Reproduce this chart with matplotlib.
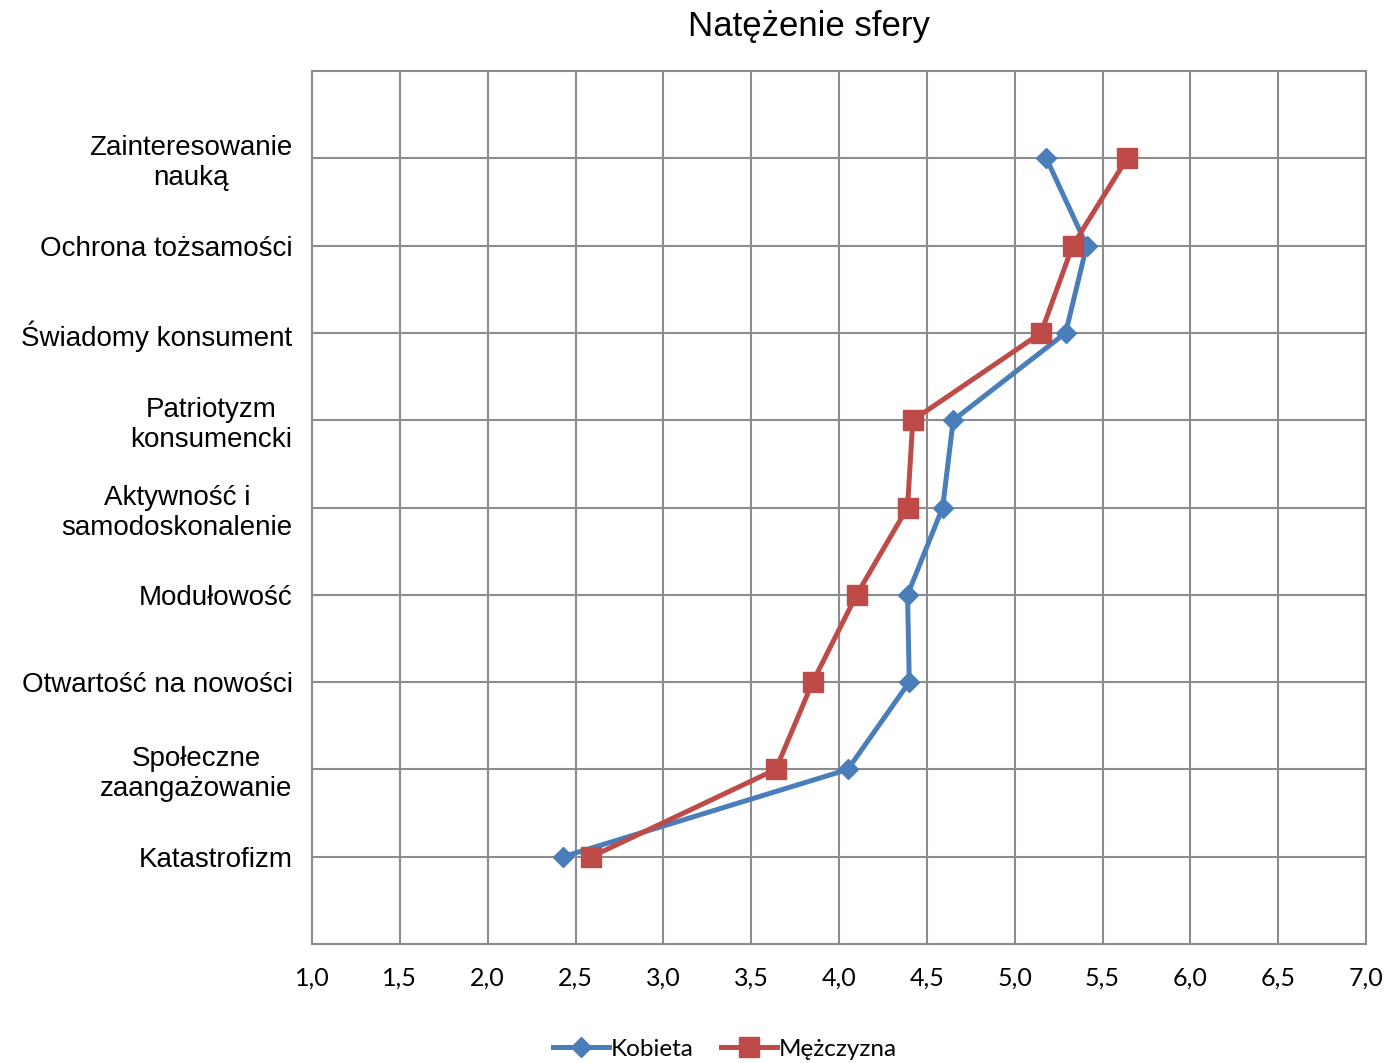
import matplotlib.pyplot as plt
from matplotlib import font_manager

categories = [
    "Zainteresowanie\nnauką",
    "Ochrona tożsamości",
    "Świadomy konsument",
    "Patriotyzm\nkonsumencki",
    "Aktywność i\nsamodoskonalenie",
    "Modułowość",
    "Otwartość na nowości",
    "Społeczne\nzaangażowanie",
    "Katastrofizm",
]
kobieta = [5.18, 5.41, 5.29, 4.65, 4.59, 4.39, 4.40, 4.05, 2.43]
mezczyzna = [5.64, 5.33, 5.15, 4.42, 4.39, 4.10, 3.85, 3.64, 2.59]
x_ticks = [1.0, 1.5, 2.0, 2.5, 3.0, 3.5, 4.0, 4.5, 5.0, 5.5, 6.0, 6.5, 7.0]

installed = {f.name for f in font_manager.fontManager.ttflist}
title_font = ["Liberation Sans Narrow", "Liberation Sans", "DejaVu Sans"]
title_font = [f for f in title_font if f in installed] or ["DejaVu Sans"]

fig = plt.figure(figsize=(13.86, 10.63), dpi=100)
ax = fig.add_axes([0.2251, 0.1119, 0.7605, 0.8213])

pos = list(range(1, len(categories) + 1))
ax.plot(kobieta, pos, color="#4A7EBB", lw=3.6, marker="D", ms=10,
        label="Kobieta", zorder=3)
ax.plot(mezczyzna, pos, color="#BE4B48", lw=3.6, marker="s", ms=14,
        label="Mężczyzna", zorder=4)

ax.set_xlim(1.0, 7.0)
ax.set_ylim(10, 0)
ax.set_xticks(x_ticks)
ax.set_xticklabels([f"{v:.1f}".replace(".", ",") for v in x_ticks],
                   fontsize=18, family="Lato")
ax.set_yticks(pos)
ax.set_yticklabels(categories, fontsize=20, family="Liberation Sans",
                   ha="right", multialignment="center")
ax.tick_params(axis="both", length=0)
ax.tick_params(axis="x", pad=16)
ax.tick_params(axis="y", pad=14)
ax.grid(True, color="#8C8C8C", lw=1.5)
for s in ax.spines.values():
    s.set_color("#8C8C8C")
    s.set_linewidth(1.5)

fig.text(0.584, 0.975, "Natężenie sfery", ha="center", va="center",
         fontsize=25, family=title_font)

fig.legend(loc="center", bbox_to_anchor=(0.523, 0.013), ncol=2, frameon=False,
           prop={"family": "Lato", "size": 17.5}, handlelength=2.3,
           handletextpad=0.1, columnspacing=1.1, borderaxespad=0)

fig.savefig("out.png", dpi=100)
